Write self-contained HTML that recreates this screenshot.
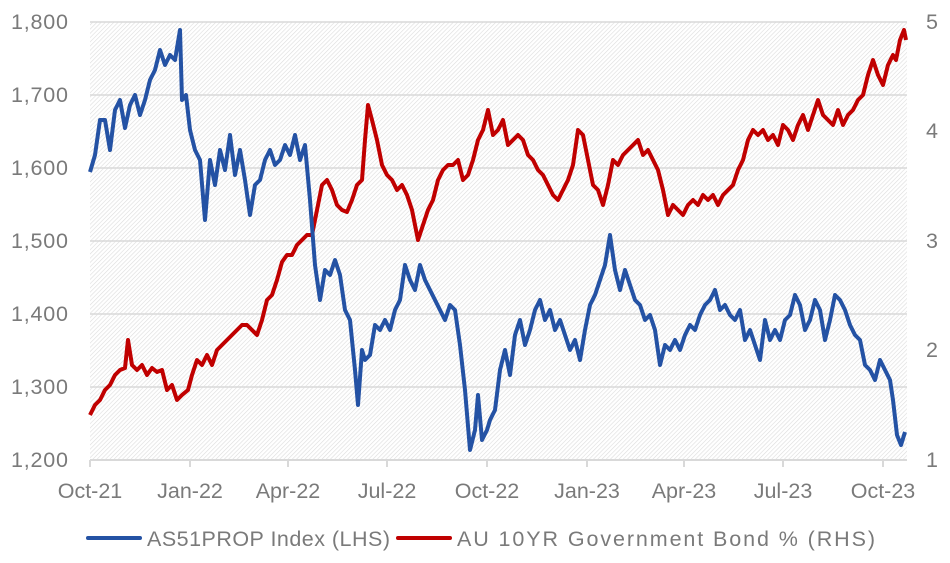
<!DOCTYPE html>
<html><head><style>body{margin:0;background:#fff}svg text{font-family:"Liberation Sans",sans-serif;font-size:21.5px;fill:#7a7a7a}</style></head><body>
<svg width="950" height="558" xmlns="http://www.w3.org/2000/svg">
<defs><pattern id="h" width="3" height="3" patternUnits="userSpaceOnUse" patternTransform="rotate(45)"><rect width="3" height="3" fill="#fff"/><line x1="0" y1="0" x2="0" y2="3" stroke="#dcdcdc" stroke-width="1.2"/></pattern></defs>
<rect x="90" y="22" width="817" height="438" fill="url(#h)"/>
<g stroke="#d9d9d9" stroke-width="1.5"><line x1="90" x2="907" y1="22" y2="22"/><line x1="90" x2="907" y1="95" y2="95"/><line x1="90" x2="907" y1="168" y2="168"/><line x1="90" x2="907" y1="241" y2="241"/><line x1="90" x2="907" y1="314" y2="314"/><line x1="90" x2="907" y1="387" y2="387"/></g>
<g stroke="#d9d9d9" stroke-width="2"><line x1="90" x2="907" y1="460" y2="460"/>
<line x1="90" x2="90" y1="460" y2="467"/><line x1="190" x2="190" y1="460" y2="467"/><line x1="288" x2="288" y1="460" y2="467"/><line x1="387" x2="387" y1="460" y2="467"/><line x1="487" x2="487" y1="460" y2="467"/><line x1="587" x2="587" y1="460" y2="467"/><line x1="684" x2="684" y1="460" y2="467"/><line x1="783" x2="783" y1="460" y2="467"/><line x1="883" x2="883" y1="460" y2="467"/></g>
<g text-anchor="end"><text x="68" y="29" textLength="57">1,800</text><text x="68" y="102" textLength="57">1,700</text><text x="68" y="175" textLength="57">1,600</text><text x="68" y="248" textLength="57">1,500</text><text x="68" y="321" textLength="57">1,400</text><text x="68" y="394" textLength="57">1,300</text><text x="68" y="467" textLength="57">1,200</text></g>
<g><text x="926" y="29">5</text><text x="926" y="138">4</text><text x="926" y="248">3</text><text x="926" y="357">2</text><text x="926" y="467">1</text></g>
<g text-anchor="middle"><text x="90" y="498">Oct-21</text><text x="190" y="498">Jan-22</text><text x="288" y="498">Apr-22</text><text x="387" y="498">Jul-22</text><text x="487" y="498">Oct-22</text><text x="587" y="498">Jan-23</text><text x="684" y="498">Apr-23</text><text x="783" y="498">Jul-23</text><text x="883" y="498">Oct-23</text></g>
<polyline fill="none" stroke="#c00000" stroke-width="4" stroke-linejoin="round" points="90,415 95,405 100,400 105,390 110,385 115,375 120,370 125,368 128,340 132,365 137,370 142,365 147,375 152,368 157,372 162,370 167,390 172,385 177,400 182,395 188,390 192,375 197,360 202,365 207,355 212,365 217,350 222,345 227,340 232,335 237,330 242,325 247,325 252,330 257,335 262,320 267,300 272,295 277,280 282,262 287,255 292,255 297,245 302,240 307,235 312,235 317,210 322,185 327,180 332,190 337,205 342,210 347,212 352,200 357,185 362,180 365,140 368,105 372,120 377,140 382,165 387,175 392,180 397,190 402,185 407,195 412,210 418,240 423,225 428,210 433,200 438,180 443,170 448,165 453,165 458,160 463,180 468,175 473,160 478,140 483,130 488,110 493,135 498,130 503,120 508,145 513,140 518,135 523,140 528,155 533,160 538,170 543,175 548,185 553,195 558,200 563,190 568,180 573,165 578,130 583,135 588,160 593,185 598,190 603,205 608,185 613,160 618,165 623,155 628,150 633,145 638,140 643,155 648,150 653,160 658,170 663,190 668,215 673,205 678,210 683,215 688,205 693,200 698,205 703,195 708,200 713,195 718,205 723,195 728,190 733,185 738,170 743,160 748,140 753,130 758,135 763,130 768,140 773,135 778,145 783,125 788,130 793,140 798,125 803,115 808,130 813,115 818,100 823,115 828,120 833,125 838,110 843,125 848,115 853,110 858,100 863,95 868,75 873,60 878,75 883,85 888,65 893,55 896,60 900,40 904,30 906,40"/>
<polyline fill="none" stroke="#2452a4" stroke-width="4" stroke-linejoin="round" points="90,172 95,155 100,120 105,120 110,150 115,110 120,100 125,128 130,105 135,95 140,115 145,100 150,80 155,70 160,50 165,65 170,55 175,60 180,30 182,100 186,95 190,130 195,150 200,160 205,220 210,160 215,185 220,150 225,170 230,135 235,175 240,150 245,180 250,215 255,185 260,180 265,160 270,150 275,165 280,160 285,145 290,155 295,135 300,160 305,145 310,200 315,265 320,300 325,270 330,275 335,260 340,275 345,310 350,320 355,370 358,405 362,350 365,360 370,355 375,325 380,330 385,320 390,330 395,310 400,300 405,265 410,280 415,290 420,265 425,280 430,290 435,300 440,310 445,320 450,305 455,310 460,345 465,390 470,450 475,430 478,395 482,440 487,430 490,420 495,410 500,370 505,350 510,375 515,335 520,320 525,345 530,330 535,310 540,300 545,320 550,310 555,330 560,320 565,335 570,350 575,340 580,360 585,330 590,305 595,295 600,280 605,265 610,235 615,270 620,290 625,270 630,285 635,300 640,305 645,320 650,315 655,330 660,365 665,345 670,350 675,340 680,350 685,335 690,325 695,330 700,315 705,305 710,300 715,290 720,310 725,305 730,315 735,320 740,310 745,340 750,330 755,345 760,360 765,320 770,340 775,330 780,340 785,320 790,315 795,295 800,305 805,330 810,320 815,300 820,310 825,340 830,320 835,295 840,300 845,310 850,325 855,335 860,340 865,365 870,370 875,380 880,360 885,370 890,380 893,400 897,435 901,445 905,432"/>
<line x1="88" x2="140" y1="538" y2="538" stroke="#2452a4" stroke-width="4" stroke-linecap="round"/><text x="147" y="546" textLength="243">AS51PROP Index (LHS)</text>
<line x1="398" x2="450" y1="538" y2="538" stroke="#c00000" stroke-width="4" stroke-linecap="round"/><text x="457" y="546" textLength="418">AU 10YR Government Bond % (RHS)</text>
</svg></body></html>
